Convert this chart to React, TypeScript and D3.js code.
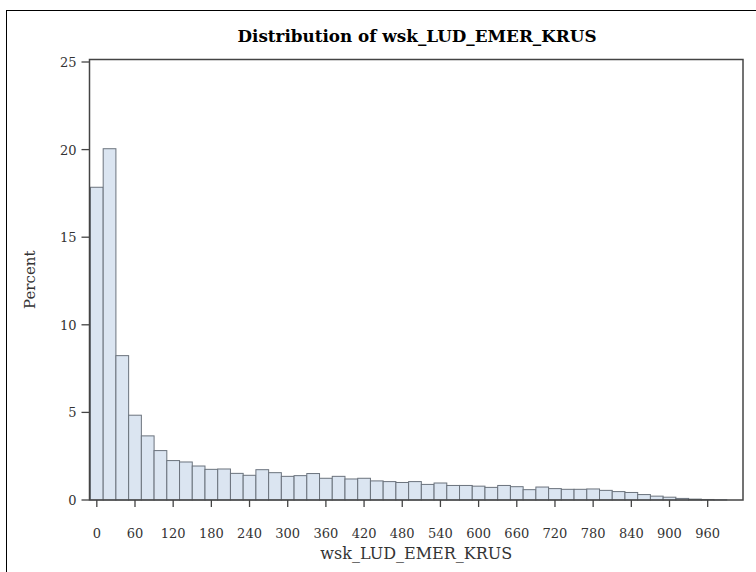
import React from "react";
import * as d3 from "d3";

const binCenters: number[] = [
  0, 20, 40, 60, 80, 100, 120, 140, 160, 180, 200, 220, 240, 260, 280, 300, 320, 340, 360, 380,
  400, 420, 440, 460, 480, 500, 520, 540, 560, 580, 600, 620, 640, 660, 680, 700, 720, 740, 760, 780,
  800, 820, 840, 860, 880, 900, 920, 940, 960, 980,
];
const percents: number[] = [
  17.85, 20.05, 8.24, 4.84, 3.66, 2.82, 2.25, 2.17, 1.94, 1.75, 1.77, 1.52, 1.41, 1.73, 1.56, 1.35, 1.39, 1.51, 1.24, 1.35,
  1.2, 1.24, 1.09, 1.05, 1.0, 1.05, 0.89, 0.97, 0.83, 0.83, 0.79, 0.72, 0.83, 0.76, 0.59, 0.74, 0.65, 0.61, 0.61, 0.63,
  0.55, 0.48, 0.43, 0.31, 0.22, 0.16, 0.09, 0.05, 0.03, 0.01,
];
const binWidth = 20;
const xTicks: number[] = [0, 60, 120, 180, 240, 300, 360, 420, 480, 540, 600, 660, 720, 780, 840, 900, 960];
const yTicks: number[] = [0, 5, 10, 15, 20, 25];
const title = "Distribution of wsk_LUD_EMER_KRUS";
const xLabel = "wsk_LUD_EMER_KRUS";
const yLabel = "Percent";

const W = 756;
const H = 572;
const left = 89.5;
const right = 743;
const top = 59.5;
const bottom = 500;

export default function App() {
  const x = d3.scaleLinear().domain([-11.5, 1015.5]).range([left, right]);
  const y = d3.scaleLinear().domain([0, 25]).range([bottom, 62]);
  const font = "'DejaVu Serif', serif";
  const axisColor = "#444";
  return (
    <svg
      width={W}
      height={H}
      style={{ position: "absolute", left: 0, top: 0, background: "#fff" }}
      fontFamily={font}
    >
      <rect x={6.5} y={10.5} width={800} height={700} fill="#fff" stroke="#000" strokeWidth={1} />
      <text x={417} y={42} textAnchor="middle" fontSize={16.8} fontWeight="bold" fill="#000">
        {title}
      </text>
      {binCenters.map((c, i) => {
        const x0 = x(c - binWidth / 2);
        const x1 = x(c + binWidth / 2);
        const yv = y(percents[i]);
        return (
          <rect
            key={i}
            x={x0}
            y={yv}
            width={x1 - x0}
            height={bottom - yv}
            fill="#dbe5f1"
            stroke="#6b737d"
            strokeWidth={1}
          />
        );
      })}
      <rect x={left} y={top} width={right - left} height={bottom - top} fill="none" stroke={axisColor} strokeWidth={1.5} />
      {yTicks.map((t) => (
        <g key={"y" + t}>
          <line x1={left - 8} x2={left} y1={y(t)} y2={y(t)} stroke={axisColor} strokeWidth={1.3} />
          <text x={left - 13} y={y(t) + 5} textAnchor="end" fontSize={13} fill="#333">
            {t}
          </text>
        </g>
      ))}
      {xTicks.map((t) => (
        <g key={"x" + t}>
          <line x1={x(t)} x2={x(t)} y1={bottom} y2={bottom + 7} stroke={axisColor} strokeWidth={1.3} />
          <text x={x(t)} y={bottom + 38} textAnchor="middle" fontSize={13} fill="#333">
            {t}
          </text>
        </g>
      ))}
      <text x={(left + right) / 2} y={559} textAnchor="middle" fontSize={16} fill="#333">
        {xLabel}
      </text>
      <text
        transform={`translate(35,${(top + bottom) / 2}) rotate(-90)`}
        textAnchor="middle"
        fontSize={15}
        fill="#333"
      >
        {yLabel}
      </text>
    </svg>
  );
}
